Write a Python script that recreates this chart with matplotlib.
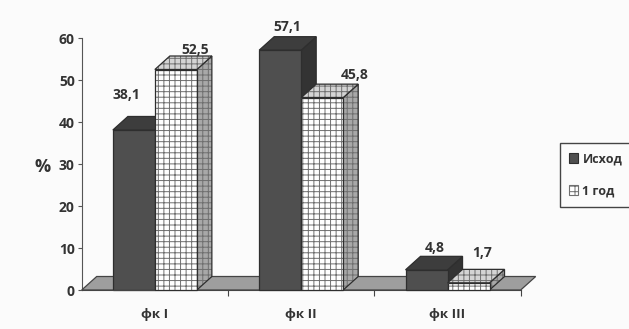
import matplotlib
matplotlib.use("Agg")
import matplotlib.pyplot as plt
from matplotlib.patches import Polygon, Patch

# chart data
categories = ["фк I", "фк II", "фк III"]
series_names = ["Исход", "1 год"]
ishod = [38.1, 57.1, 4.8]
god1 = [52.5, 45.8, 1.7]
y_ticks = [0, 10, 20, 30, 40, 50, 60]

plt.rcParams["font.family"] = ["Open Sans", "DejaVu Sans"]
plt.rcParams["font.weight"] = "bold"
TEXT = "#333333"

W, H = 629, 329
fig = plt.figure(figsize=(W / 100, H / 100), dpi=100, facecolor="#fbfbfb")
ax_l, ax_b, ax_w, ax_h = 81.7, 39.0, 439.0, 252.0
ax = fig.add_axes([ax_l / W, ax_b / H, ax_w / W, ax_h / H])
ax.set_facecolor("none")
ax.set_xlim(-0.5, len(categories) - 0.5)
ax.set_ylim(0, 60)

# pseudo-3D depth, pixels -> data units
depth_px = (15.0, 13.5)
ddx = depth_px[0] * len(categories) / ax_w
ddy = depth_px[1] * 60 / ax_h

EDGE = "#2e2e2e"


def face(poly, fc, z, hatch=None, hatch_color=None):
    ax.add_patch(Polygon(poly, closed=True, facecolor=fc,
                         edgecolor=hatch_color if hatch else "none",
                         hatch=hatch, lw=0, zorder=z, clip_on=False))
    ax.add_patch(Polygon(poly, closed=True, fill=False, edgecolor=EDGE,
                         lw=0.9, zorder=z + 0.01, clip_on=False))


def box(x0, w, h, colors, z, hatch=None, hatch_color=None):
    front = [(x0, 0), (x0 + w, 0), (x0 + w, h), (x0, h)]
    top = [(x0, h), (x0 + w, h), (x0 + w + ddx, h + ddy), (x0 + ddx, h + ddy)]
    side = [(x0 + w, 0), (x0 + w + ddx, ddy), (x0 + w + ddx, h + ddy), (x0 + w, h)]
    face(side, colors[2], z, hatch, hatch_color)
    face(top, colors[1], z + 0.02, hatch, hatch_color)
    face(front, colors[0], z + 0.04, hatch, hatch_color)


plt.rcParams["hatch.linewidth"] = 0.7

# floor
x_lo, x_hi = ax.get_xlim()
floor = [(x_lo, 0), (x_hi, 0), (x_hi + ddx, ddy), (x_lo + ddx, ddy)]
ax.add_patch(Polygon(floor, closed=True, facecolor="#9e9e9e", edgecolor="#444444",
                     lw=0.9, zorder=1, clip_on=False))

bar_w = 42.0 * len(categories) / ax_w
dark_cols = ("#4f4f4f", "#3d3d3d", "#333333")
grid_cols = ("#ffffff", "#d4d4d4", "#a8a8a8")

# label offsets (pixels) relative to the front-top centre of each bar
lab_off_a = [(-7, 35), (7, 23), (8, 22)]
lab_off_b = [(19, 20), (32, 23), (14, 30)]

z = 2
for i, cat in enumerate(categories):
    xa = i - bar_w
    box(xa, bar_w, ishod[i], dark_cols, z)
    box(i, bar_w, god1[i], grid_cols, z + 1, hatch="+++", hatch_color="#6f6f6f")
    z += 2
    for x0, v, off in ((xa, ishod[i], lab_off_a[i]), (i, god1[i], lab_off_b[i])):
        ax.annotate(f"{v:.1f}".replace(".", ","), (x0 + bar_w / 2, v),
                    xytext=off, textcoords="offset pixels",
                    ha="center", va="center", fontsize=10, color=TEXT,
                    fontweight="bold", annotation_clip=False, zorder=20)

# axes styling
for s in ("top", "right"):
    ax.spines[s].set_visible(False)
ax.spines["left"].set_color("#555555")
ax.spines["bottom"].set_color("#444444")
ax.spines["left"].set_zorder(0.5)
ax.set_yticks(y_ticks)
ax.tick_params(axis="y", length=3, width=0.8, color="#555555", pad=2,
               labelsize=10, labelcolor=TEXT)
ax.set_xticks(range(len(categories)), categories)
ax.tick_params(axis="x", which="major", length=0, pad=13, labelsize=9.5, labelcolor=TEXT)
ax.set_xticks([i + 0.5 for i in range(len(categories))], minor=True)
ax.tick_params(axis="x", which="minor", length=4, width=0.8, color="#444444", direction="out")
for lab in ax.get_xticklabels() + ax.get_yticklabels():
    lab.set_fontweight("bold")

fig.text(43 / W, 1 - 167 / H, "%", fontsize=13, color=TEXT, ha="center", va="center",
         fontweight="bold")

handles = [
    Patch(facecolor=dark_cols[0], edgecolor=EDGE, lw=0.8),
    Patch(facecolor="#ffffff", edgecolor="#6f6f6f", hatch="+++", lw=0.8),
]
leg = fig.legend(handles, series_names, loc="upper left",
                 bbox_to_anchor=(560 / W, 1 - 143 / H), frameon=True, fancybox=False,
                 edgecolor="#444444", facecolor="#fbfbfb", framealpha=1,
                 prop={"size": 9, "weight": "bold"},
                 handlelength=0.7, handleheight=0.8, handletextpad=0.35,
                 borderpad=0.75, labelspacing=1.5, borderaxespad=0)
for t in leg.get_texts():
    t.set_color(TEXT)

fig.savefig("out.png", dpi=100, facecolor=fig.get_facecolor())
